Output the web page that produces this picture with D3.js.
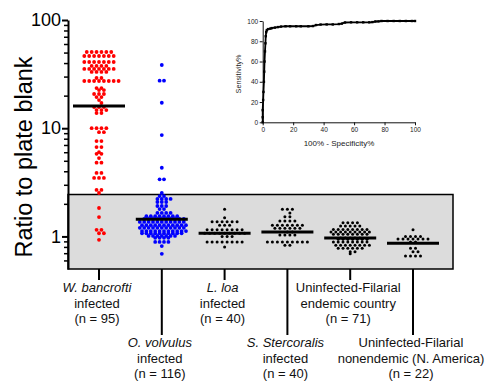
<!DOCTYPE html>
<html>
<head>
<meta charset="utf-8">
<script src="https://cdn.jsdelivr.net/npm/d3@7"></script>
<style>
  body { margin: 0; background: #fff; }
  text { font-family: "Liberation Sans", Arial, sans-serif; }
</style>
</head>
<body>
<svg id="chart" width="491" height="381"></svg>
<script>
// groups on the x axis
const groups = ["W. bancrofti", "O. volvulus", "L. loa", "S. Stercoralis", "Endemic", "Nonendemic"];

// ratio to plate blank
const wbValues = [
  50.6, 50.6, 50.6, 50.6, 50.6, 50.6,
  46.5, 46.5, 46.5, 46.5, 46.5, 46.5, 46.5,
  40.9, 40.9, 40.9, 40.9, 40.9, 40.9, 40.9,
  37.6, 37.6, 37.6, 37.6,
  35.3, 35.3, 35.3, 35.3, 35.3, 35.3, 35.3,
  33.1, 33.1, 33.1, 33.1,
  29.1, 29.1,
  27.3, 27.3, 27.3, 27.3, 27.3, 27.3, 27.3, 27.3,
  23.5, 23.5, 22.5, 22.5, 20.7, 20.7, 20.7, 19.4, 19.4, 18.2, 17.1,
  15.7, 15.7, 15.7, 14.7, 14.7, 14.7, 13.8, 13.8,
  10.0, 10.0, 10.0, 10.0, 9.2, 9.2, 7.6, 7.6, 6.7, 6.7, 6.0, 5.8, 5.8, 5.3,
  4.8, 4.8, 3.86, 3.86, 3.47, 3.47, 3.47, 2.69, 2.69, 2.52,
  1.83, 1.51, 1.15, 1.15, 1.07, 1.07, 0.93
];
const ovValues = [
  38.4, 27.5, 27.5, 17.2, 8.65, 4.31, 3.37, 3.37, 2.52, 2.36, 2.36,
  2.22, 2.22, 2.22, 2.22, 2.08, 2.08, 2.08, 1.91, 1.91, 1.91, 1.79, 1.79,
  1.65, 1.65, 1.65, 1.65,
  1.54, 1.54, 1.54, 1.54, 1.54, 1.54, 1.54, 1.54,
  1.45, 1.45, 1.45, 1.45, 1.45, 1.45, 1.45, 1.45, 1.45, 1.45,
  1.36, 1.36, 1.36, 1.36, 1.36, 1.36, 1.36, 1.36, 1.36, 1.36, 1.36,
  1.27, 1.27, 1.27, 1.27, 1.27, 1.27, 1.27, 1.27, 1.27, 1.27, 1.27,
  1.20, 1.20, 1.20, 1.20, 1.20, 1.20, 1.20, 1.20, 1.20, 1.20, 1.20,
  1.12, 1.12, 1.12, 1.12, 1.12, 1.12, 1.12, 1.12, 1.12, 1.12, 1.12,
  1.07, 1.07, 1.07, 1.07, 1.07, 1.07, 1.07, 1.07, 1.07, 1.07,
  1.01, 1.01, 1.01, 1.01, 1.01, 1.01, 1.01,
  0.97, 0.97, 0.97, 0.97, 0.89, 0.89, 0.89, 0.89, 0.815, 0.69
];
const loaValues = [
  1.78, 1.49, 1.37, 1.37, 1.37, 1.37, 1.37, 1.37, 1.27, 1.27, 1.27,
  1.15, 1.15, 1.15, 1.15, 1.15, 1.15, 1.15, 1.15,
  1.07, 1.07, 1.07, 1.07, 1.07, 1.07, 1.07, 1.07, 1.07,
  1.00, 1.00, 1.00,
  0.89, 0.89, 0.89, 0.89, 0.89, 0.89, 0.89, 0.89, 0.80
];
const ssValues = [
  1.78, 1.78, 1.78, 1.65, 1.52, 1.52, 1.39, 1.39, 1.39, 1.39,
  1.27, 1.27, 1.27, 1.27, 1.27, 1.27, 1.27,
  1.19, 1.19, 1.19, 1.19, 1.19, 1.19, 1.10, 1.10,
  1.03, 1.03, 1.03, 1.03,
  0.89, 0.89, 0.89, 0.89, 0.89, 0.89, 0.89, 0.89, 0.89, 0.83, 0.83
];
const endemicValues = [
  1.34, 1.34, 1.34, 1.34, 1.25, 1.25, 1.25, 1.25, 1.25,
  1.16, 1.16, 1.16, 1.16, 1.16, 1.16, 1.16, 1.16,
  1.10, 1.10, 1.10, 1.10, 1.10, 1.10, 1.10, 1.10, 1.10,
  1.05, 1.05, 1.05, 1.05, 1.05, 1.05, 1.05, 1.05,
  0.967, 0.967, 0.967, 0.967, 0.967,
  0.94, 0.94, 0.94, 0.94, 0.94, 0.94, 0.94,
  0.89, 0.89, 0.89, 0.89, 0.89, 0.89, 0.89, 0.89,
  0.83, 0.83, 0.83, 0.83, 0.83, 0.83, 0.83, 0.83,
  0.776, 0.776, 0.776, 0.776, 0.776, 0.776, 0.722, 0.722, 0.69
];
const nonendemicValues = [
  1.15, 1.00, 1.00, 1.00, 1.00,
  0.945, 0.945, 0.945, 0.945, 0.945, 0.945, 0.945,
  0.89, 0.89, 0.776, 0.776, 0.72, 0.72, 0.66, 0.66, 0.66, 0.66
];
const medians = [16.0, 1.44, 1.07, 1.10, 0.967, 0.864];
const cutoff = 2.44;

const labelLines = [
  ["W. bancrofti", "infected", "(n = 95)"],
  ["O. volvulus", "infected", "(n = 116)"],
  ["L. loa", "infected", "(n = 40)"],
  ["S. Stercoralis", "infected", "(n = 40)"],
  ["Uninfected-Filarial", "endemic country", "(n = 71)"],
  ["Uninfected-Filarial", "nonendemic (N. America)", "(n = 22)"]
];

// ROC inset: [100% - specificity%, sensitivity%]
const rocPoints = [
  [0, 0], [0, 5], [0, 12], [0.3, 22], [0.5, 30], [0.8, 40], [1, 50], [1.2, 60],
  [1.5, 70], [1.8, 78], [2, 85], [2.3, 89], [2.7, 91], [3.5, 92], [5, 92.5],
  [6, 93], [8, 93.5], [10, 94], [12, 94.5], [15, 94.8], [18, 94.8], [22, 94.8],
  [25, 94.8], [30, 94.8], [33, 95], [35, 96], [38, 96.5], [42, 96.6], [46, 96.6],
  [50, 97], [52, 97.5], [54, 98.5], [58, 98.7], [62, 98.7], [66, 98.7], [70, 98.7],
  [72, 98.9], [74, 99.5], [76, 99.6], [78, 100], [82, 100], [86, 100], [90, 100],
  [94, 100], [98, 100], [100, 100]
];
const rocTicks = [0, 20, 40, 60, 80, 100];

const svg = d3.select("#chart");

const y = d3.scaleLog().domain([0.5, 100]).range([269, 20]);
const x = d3.scalePoint().domain(groups).range([99, 413]);

const series = [
  { values: wbValues, color: "#ff0000", r: 1.9, gap: 4.9, long: false },
  { values: ovValues, color: "#0000ff", r: 1.9, gap: 4.4, long: true },
  { values: loaValues, color: "#000", r: 1.5, gap: 5, long: false },
  { values: ssValues, color: "#000", r: 1.5, gap: 5, long: true },
  { values: endemicValues, color: "#000", r: 1.5, gap: 4.8, long: false },
  { values: nonendemicValues, color: "#000", r: 1.5, gap: 5, long: true }
];

// grey "negative" region
svg.append("rect")
  .attr("x", 68)
  .attr("y", y(cutoff))
  .attr("width", 453 - 68)
  .attr("height", y(0.5) - y(cutoff))
  .attr("fill", "#dcdcdc")
  .attr("stroke", "#000")
  .attr("stroke-width", 1.5);

// dots, put side by side in rows of equal value;
// a row close under one with the same parity is shifted half a step
series.forEach((s, gi) => {
  const rows = d3.groups(s.values, v => v);
  const pts = [];
  let prev = null;
  rows.forEach(([v, list]) => {
    let shift = 0;
    if (prev && Math.abs(y(v) - y(prev.v)) < 4 && prev.n % 2 === list.length % 2 && prev.shift === 0) {
      shift = s.gap / 2;
    }
    list.forEach((_, i) => {
      pts.push({ v: v, dx: (i - (list.length - 1) / 2) * s.gap + shift });
    });
    prev = { v: v, n: list.length, shift: shift };
  });
  svg.append("g").selectAll("circle")
    .data(pts)
    .enter().append("circle")
    .attr("cx", d => x(groups[gi]) + d.dx)
    .attr("cy", d => y(d.v))
    .attr("r", s.r)
    .attr("fill", s.color);

  // median bar
  svg.append("line")
    .attr("x1", x(groups[gi]) - 26)
    .attr("x2", x(groups[gi]) + 26)
    .attr("y1", y(medians[gi]))
    .attr("y2", y(medians[gi]))
    .attr("stroke", "#000")
    .attr("stroke-width", 3);

  // category tick and label
  const tickEnd = s.long ? 335 : 280;
  svg.append("line")
    .attr("x1", x(groups[gi]))
    .attr("x2", x(groups[gi]))
    .attr("y1", 269)
    .attr("y2", tickEnd)
    .attr("stroke", "#000")
    .attr("stroke-width", 2);

  const label = svg.append("text")
    .attr("text-anchor", "middle")
    .attr("font-size", 13)
    .attr("fill", "#111");
  labelLines[gi].forEach((t, li) => {
    label.append("tspan")
      .attr("x", x(groups[gi]) - 2)
      .attr("y", tickEnd + 12 + li * 15.5)
      .attr("font-style", li === 0 && gi < 4 ? "italic" : null)
      .text(t);
  });
});

// y axis: minor ticks then majors
const minorTicks = [0.6, 0.7, 0.8, 0.9, 2, 3, 4, 5, 6, 7, 8, 9, 20, 30, 40, 50, 60, 70, 80, 90];
const minorAxis = svg.append("g")
  .attr("transform", "translate(68,0)")
  .call(d3.axisLeft(y).tickValues(minorTicks).tickSize(4).tickSizeOuter(0).tickFormat(""));
minorAxis.select(".domain").remove();
minorAxis.selectAll("line").attr("stroke-width", 1.5);

const yAxis = svg.append("g")
  .attr("transform", "translate(68,0)")
  .call(d3.axisLeft(y).tickValues([1, 10, 100]).tickSize(6).tickSizeOuter(0)
    .tickPadding(1).tickFormat(d3.format("d")));
yAxis.select(".domain").attr("stroke-width", 2);
yAxis.selectAll("line").attr("stroke-width", 2);
yAxis.selectAll("text")
  .attr("font-size", 18)
  .attr("fill", "#000")
  .style("font-family", "'Liberation Sans', Arial, sans-serif");

svg.append("text")
  .attr("transform", "translate(32,157) rotate(-90)")
  .attr("text-anchor", "middle")
  .attr("font-size", 23.5)
  .text("Ratio to plate blank");

// ROC inset
const xr = d3.scaleLinear().domain([0, 100]).range([262.7, 415]);
const yr = d3.scaleLinear().domain([0, 100]).range([122.3, 21]);

const insetX = svg.append("g")
  .attr("transform", "translate(0,122.3)")
  .call(d3.axisBottom(xr).tickValues(rocTicks).tickSize(3).tickSizeOuter(0).tickPadding(2));
const insetY = svg.append("g")
  .attr("transform", "translate(262.7,0)")
  .call(d3.axisLeft(yr).tickValues(rocTicks).tickSize(3).tickSizeOuter(0).tickPadding(1.5));
[insetX, insetY].forEach(g => {
  g.selectAll("text")
    .attr("font-size", 6.5)
    .attr("fill", "#222")
    .style("font-family", "'Liberation Sans', Arial, sans-serif");
  g.selectAll("line, path").attr("stroke", "#111");
});

const rocLine = d3.line()
  .x(d => xr(d[0]))
  .y(d => yr(d[1]));

svg.append("path")
  .datum(rocPoints)
  .attr("d", rocLine)
  .attr("fill", "none")
  .attr("stroke", "#000")
  .attr("stroke-width", 1.8);

svg.append("g").selectAll("rect")
  .data(rocPoints)
  .enter().append("rect")
  .attr("x", d => xr(d[0]) - 1.2)
  .attr("y", d => yr(d[1]) - 1.2)
  .attr("width", 2.4)
  .attr("height", 2.4)
  .attr("fill", "#000");

svg.append("text")
  .attr("x", 339)
  .attr("y", 146)
  .attr("text-anchor", "middle")
  .attr("font-size", 8)
  .attr("fill", "#222")
  .text("100% - Specificity%");

svg.append("text")
  .attr("transform", "translate(240.5,74) rotate(-90)")
  .attr("text-anchor", "middle")
  .attr("font-size", 7.2)
  .attr("fill", "#222")
  .text("Sensitivity%");
</script>
</body>
</html>
